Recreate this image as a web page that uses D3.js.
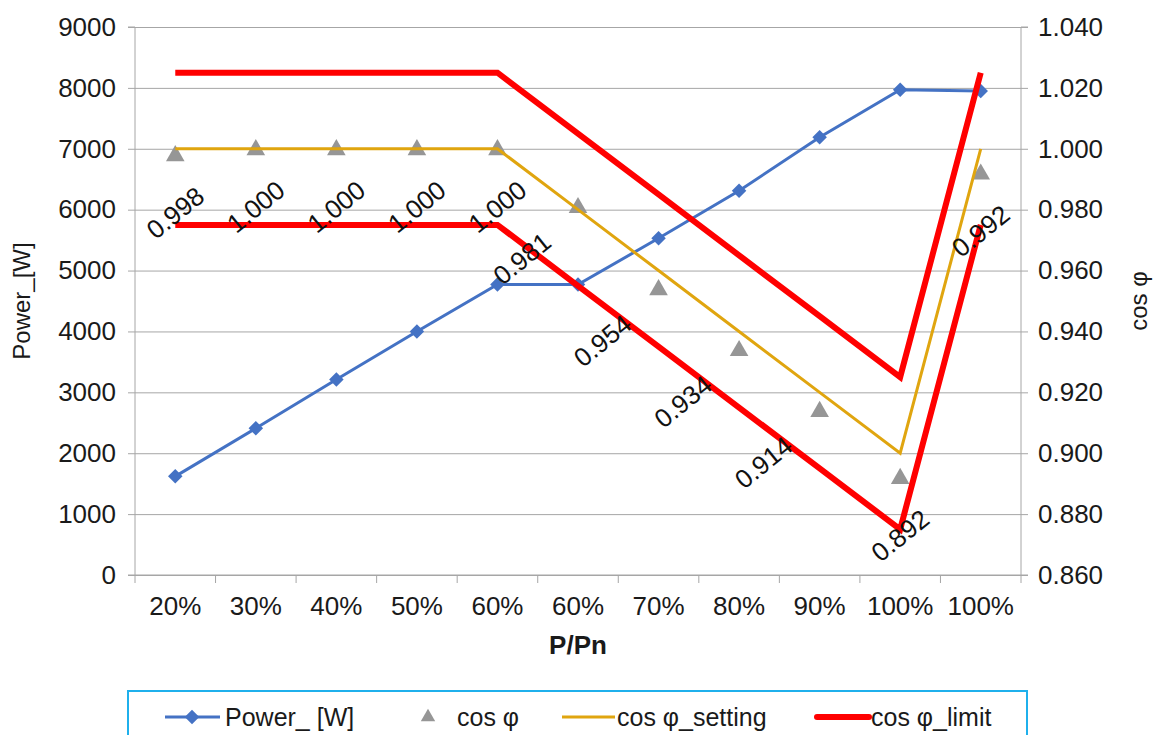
<!DOCTYPE html>
<html>
<head>
<meta charset="utf-8">
<script src="https://cdn.jsdelivr.net/npm/d3@7"></script>
<style>
  body { margin: 0; background: #fff; }
  svg { display: block; font-family: "Liberation Sans", Arial, sans-serif; }
</style>
</head>
<body>
<svg width="1153" height="735"></svg>
<script>
// data
const categories = ["20%", "30%", "40%", "50%", "60%", "60%", "70%", "80%", "90%", "100%", "100%"];
const powerW = [1620, 2410, 3210, 4000, 4770, 4770, 5530, 6310, 7190, 7970, 7950];
const cosPhi = [0.998, 1.000, 1.000, 1.000, 1.000, 0.981, 0.954, 0.934, 0.914, 0.892, 0.992];
const cosSetting = [1.000, 1.000, 1.000, 1.000, 1.000, 0.980, 0.960, 0.940, 0.920, 0.900, 1.000];
const limitUpper = [1.025, 1.025, 1.025, 1.025, 1.025, 1.005, 0.985, 0.965, 0.945, 0.925, 1.025];
const limitLower = [0.975, 0.975, 0.975, 0.975, 0.975, 0.955, 0.935, 0.915, 0.895, 0.875, 0.975];
const leftTicks = [0, 1000, 2000, 3000, 4000, 5000, 6000, 7000, 8000, 9000];
const rightTicks = [0.86, 0.88, 0.90, 0.92, 0.94, 0.96, 0.98, 1.00, 1.02, 1.04];

const svg = d3.select("svg");
const pLeft = 135, pRight = 1021, pTop = 27, pBottom = 575;
const idx = categories.map((d, i) => i);

const x = d3.scaleBand().domain(idx).range([pLeft, pRight]);
const cx = i => x(i) + x.bandwidth() / 2;
const yL = d3.scaleLinear().domain([0, 9000]).range([pBottom, pTop]);
const yR = d3.scaleLinear().domain([0.86, 1.04]).range([pBottom, pTop]);

const gridColor = "#a6a6a6";
const fontSize = 26;

// gridlines
svg.append("g")
  .attr("transform", `translate(${pLeft},0)`)
  .call(d3.axisLeft(yL).tickValues(leftTicks).tickSize(-(pRight - pLeft)).tickFormat(""))
  .call(g => g.select(".domain").remove())
  .call(g => g.selectAll("line").attr("stroke", gridColor));

// left axis
svg.append("g")
  .attr("transform", `translate(${pLeft},0)`)
  .call(d3.axisLeft(yL).tickValues(leftTicks).tickSize(7).tickPadding(12).tickFormat(d3.format("d")))
  .call(g => g.select(".domain").attr("stroke", gridColor).attr("d", `M-7,${pBottom}H0V${pTop}H-7`))
  .call(g => g.selectAll("line").attr("stroke", gridColor))
  .call(g => g.selectAll("text").attr("font-size", fontSize).attr("fill", "#1a1a1a").attr("font-family", null));

// right axis
svg.append("g")
  .attr("transform", `translate(${pRight},0)`)
  .call(d3.axisRight(yR).tickValues(rightTicks).tickSize(7).tickPadding(10).tickFormat(d3.format(".3f")))
  .call(g => g.select(".domain").attr("stroke", gridColor).attr("d", `M7,${pBottom}H0V${pTop}H7`))
  .call(g => g.selectAll("line").attr("stroke", gridColor))
  .call(g => g.selectAll("text").attr("font-size", fontSize).attr("fill", "#1a1a1a").attr("font-family", null));

// bottom axis
const xAxis = svg.append("g")
  .attr("transform", `translate(0,${pBottom})`)
  .call(d3.axisBottom(x).tickSize(0).tickPadding(22).tickFormat(i => categories[i]))
  .call(g => g.select(".domain").attr("stroke", gridColor).attr("d", `M${pLeft},0H${pRight}`))
  .call(g => g.selectAll("text").attr("font-size", fontSize).attr("fill", "#1a1a1a").attr("font-family", null));
xAxis.selectAll(".sep")
  .data(d3.range(categories.length + 1))
  .join("line")
  .attr("class", "sep")
  .attr("x1", i => pLeft + i * x.step()).attr("x2", i => pLeft + i * x.step())
  .attr("y1", 0).attr("y2", 8)
  .attr("stroke", gridColor);

// axis titles
svg.append("text")
  .attr("transform", `translate(30,${(pTop + pBottom) / 2}) rotate(-90)`)
  .attr("text-anchor", "middle")
  .attr("font-size", 24).attr("fill", "#1a1a1a")
  .text("Power_[W]");
svg.append("text")
  .attr("transform", `translate(1147,${(pTop + pBottom) / 2}) rotate(-90)`)
  .attr("text-anchor", "middle")
  .attr("font-size", 24).attr("fill", "#1a1a1a")
  .text("cos φ");
svg.append("text")
  .attr("x", (pLeft + pRight) / 2).attr("y", 654)
  .attr("text-anchor", "middle")
  .attr("font-size", 26).attr("font-weight", "bold").attr("fill", "#1a1a1a")
  .text("P/Pn");

// series
const blue = "#4472c4", gold = "#e0a50f", red = "#ff0000", grey = "#969696";
const diamond = d3.symbol().type(d3.symbolSquare).size(105);
const triangle = d3.symbol().type(d3.symbolTriangle).size(150);

svg.append("path")
  .datum(idx)
  .attr("fill", "none").attr("stroke", blue).attr("stroke-width", 3)
  .attr("d", d3.line().x(cx).y(i => yL(powerW[i])));
svg.selectAll(".pw")
  .data(idx).join("path")
  .attr("class", "pw")
  .attr("d", diamond)
  .attr("transform", i => `translate(${cx(i)},${yL(powerW[i])}) rotate(45)`)
  .attr("fill", blue);

svg.selectAll(".cp")
  .data(idx).join("path")
  .attr("class", "cp")
  .attr("d", triangle)
  .attr("transform", i => `translate(${cx(i)},${yR(cosPhi[i]) + 1})`)
  .attr("fill", grey);

svg.append("path")
  .datum(idx)
  .attr("fill", "none").attr("stroke", gold).attr("stroke-width", 3)
  .attr("d", d3.line().x(cx).y(i => yR(cosSetting[i])));

[limitUpper, limitLower].forEach(arr => {
  svg.append("path")
    .datum(idx)
    .attr("fill", "none").attr("stroke", red).attr("stroke-width", 6)
    .attr("stroke-linejoin", "miter")
    .attr("d", d3.line().x(cx).y(i => yR(arr[i])));
});

// data labels for cos φ, shifted left on the falling stretch
const falling = i => i > 0 && i < cosSetting.length - 1 &&
  cosSetting[i - 1] > cosSetting[i] && cosSetting[i + 1] < cosSetting[i];
svg.selectAll(".lbl")
  .data(idx).join("text")
  .attr("class", "lbl")
  .attr("transform", i => `translate(${cx(i) + (falling(i) ? -56 : 0)},${yR(cosPhi[i]) + (falling(i) ? 52 : 58)}) rotate(-39)`)
  .attr("text-anchor", "middle")
  .attr("dominant-baseline", "central")
  .attr("font-size", 26).attr("fill", "#111")
  .text(i => d3.format(".3f")(cosPhi[i]));

// legend
const lg = svg.append("g");
lg.append("rect")
  .attr("x", 128).attr("y", 691).attr("width", 899).attr("height", 60)
  .attr("fill", "#fff").attr("stroke", "#1fb0ec").attr("stroke-width", 2);
const ly = 717;
lg.append("line").attr("x1", 165).attr("x2", 220).attr("y1", ly).attr("y2", ly)
  .attr("stroke", blue).attr("stroke-width", 3);
lg.append("path").attr("d", diamond).attr("transform", `translate(192,${ly}) rotate(45)`).attr("fill", blue);
lg.append("text").attr("x", 225).attr("y", ly).attr("dominant-baseline", "central")
  .attr("font-size", 25).attr("fill", "#1a1a1a").text("Power_ [W]");
lg.append("path").attr("d", d3.symbol().type(d3.symbolTriangle).size(90))
  .attr("transform", `translate(428,${ly})`).attr("fill", grey);
lg.append("text").attr("x", 457).attr("y", ly).attr("dominant-baseline", "central")
  .attr("font-size", 25).attr("fill", "#1a1a1a").text("cos φ");
lg.append("line").attr("x1", 562).attr("x2", 615).attr("y1", ly).attr("y2", ly)
  .attr("stroke", gold).attr("stroke-width", 3);
lg.append("text").attr("x", 617).attr("y", ly).attr("dominant-baseline", "central")
  .attr("font-size", 25).attr("fill", "#1a1a1a").text("cos φ_setting");
lg.append("line").attr("x1", 817).attr("x2", 869).attr("y1", ly).attr("y2", ly)
  .attr("stroke", red).attr("stroke-width", 6).attr("stroke-linecap", "round");
lg.append("text").attr("x", 871).attr("y", ly).attr("dominant-baseline", "central")
  .attr("font-size", 25).attr("fill", "#1a1a1a").text("cos φ_limit");
</script>
</body>
</html>
